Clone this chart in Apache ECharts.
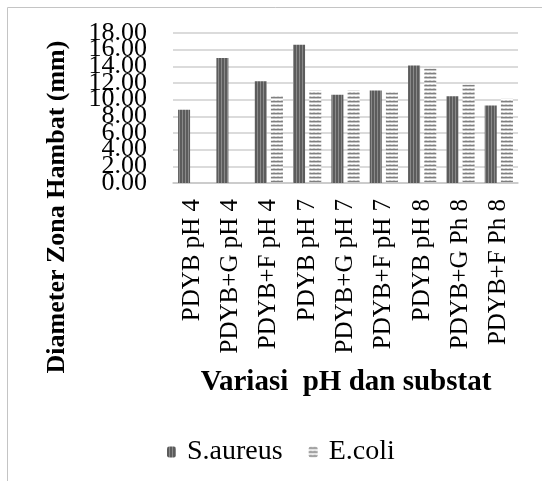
<!DOCTYPE html>
<html lang="en">
<head>
    <meta charset="UTF-8">
    <title>Diameter Zona Hambat</title>
    <script src="https://cdn.jsdelivr.net/npm/echarts@6.0.0/dist/echarts.min.js"></script>
    <style>
        html, body { margin: 0; padding: 0; background: #fff; }
        #main { width: 542px; height: 481px; }
    </style>
</head>
<body>
    <div id="main"></div>
    <script>
        // data
        var categories = ['PDYB pH 4', 'PDYB+G pH 4', 'PDYB+F pH 4', 'PDYB pH 7', 'PDYB+G pH 7',
            'PDYB+F pH 7', 'PDYB pH 8', 'PDYB+G Ph 8', 'PDYB+F Ph 8'];
        var saureus = [8.8, 15.0, 12.2, 16.6, 10.6, 11.1, 14.1, 10.4, 9.3];
        var ecoli = [0, 0, 10.4, 11.1, 11.1, 10.9, 13.7, 11.8, 10.1];
        var seriesNames = ['S.aureus', 'E.coli'];

        // dark vertical stripes
        function stripePattern() {
            var c = document.createElement('canvas');
            c.width = 3; c.height = 4;
            var ctx = c.getContext('2d');
            ctx.fillStyle = '#5c5c5c';
            ctx.fillRect(0, 0, 3, 4);
            ctx.fillStyle = '#8a8a8a';
            ctx.fillRect(2, 0, 1, 4);
            return { image: c, repeat: 'repeat' };
        }

        // light zigzag waves
        function wavePattern() {
            var c = document.createElement('canvas');
            c.width = 4; c.height = 4;
            var ctx = c.getContext('2d');
            ctx.fillStyle = '#ffffff';
            ctx.fillRect(0, 0, 4, 4);
            ctx.strokeStyle = '#808080';
            ctx.lineWidth = 1;
            ctx.beginPath();
            ctx.moveTo(0, 0.5);
            ctx.lineTo(1, 2.5);
            ctx.lineTo(2, 0.5);
            ctx.lineTo(3, 2.5);
            ctx.lineTo(4, 0.5);
            ctx.stroke();
            return { image: c, repeat: 'repeat' };
        }

        var serif = '"Liberation Serif", "DejaVu Serif", serif';
        var myChart = echarts.init(document.getElementById('main'));

        // the tick labels crowd each other, so they are split over two axes
        // (odd and even steps) to keep ECharts from dropping any of them
        function yAxisDef(keep, withGrid) {
            return {
                type: 'value',
                position: 'left',
                min: 0,
                max: 18,
                interval: 2,
                axisLine: { show: false },
                axisTick: { show: false },
                splitLine: { show: withGrid, lineStyle: { color: '#cfcfcf', width: 1.5 } },
                axisLabel: {
                    margin: 26,
                    fontFamily: serif,
                    fontSize: 26,
                    color: '#000',
                    formatter: function (v) {
                        return (Math.round(v / 2) % 2 === keep) ? v.toFixed(2) : '';
                    }
                }
            };
        }

        myChart.setOption({
            animation: false,
            grid: { left: 173, right: 24, top: 33, bottom: 298 },
            legend: {
                data: seriesNames,
                left: 162,
                top: 433,
                itemWidth: 9,
                itemHeight: 11,
                itemGap: 26,
                textStyle: { fontFamily: serif, fontSize: 28, color: '#000', padding: [0, 0, 0, 6] }
            },
            xAxis: {
                type: 'category',
                data: categories,
                axisLine: { lineStyle: { color: '#c8c8c8', width: 1.5 } },
                axisTick: { show: false },
                axisLabel: {
                    rotate: 90,
                    margin: 16,
                    interval: 0,
                    fontFamily: serif,
                    fontSize: 25,
                    color: '#000'
                }
            },
            yAxis: [yAxisDef(0, true), yAxisDef(1, false)],
            series: [
                {
                    name: seriesNames[0],
                    type: 'bar',
                    data: saureus,
                    barWidth: 12,
                    barGap: '35%',
                    itemStyle: { color: stripePattern() }
                },
                {
                    name: seriesNames[1],
                    type: 'bar',
                    data: ecoli,
                    barWidth: 12,
                    itemStyle: { color: wavePattern() }
                }
            ],
            graphic: [
                {
                    type: 'rect',
                    shape: { x: 7.5, y: 7.5, width: 700, height: 700 },
                    style: { fill: 'none', stroke: '#c4c4c4', lineWidth: 1 },
                    silent: true
                },
                {
                    type: 'text',
                    x: 57,
                    y: 207,
                    rotation: Math.PI / 2,
                    style: {
                        text: 'Diameter Zona Hambat (mm)',
                        fontFamily: serif,
                        fontWeight: 'bold',
                        fontSize: 26,
                        fill: '#000',
                        align: 'center',
                        verticalAlign: 'middle'
                    }
                },
                {
                    type: 'text',
                    x: 346,
                    y: 383,
                    style: {
                        text: 'Variasi  pH dan substat',
                        fontFamily: serif,
                        fontWeight: 'bold',
                        fontSize: 29,
                        fill: '#000',
                        align: 'center',
                        verticalAlign: 'middle'
                    }
                }
            ]
        });
    </script>
</body>
</html>
